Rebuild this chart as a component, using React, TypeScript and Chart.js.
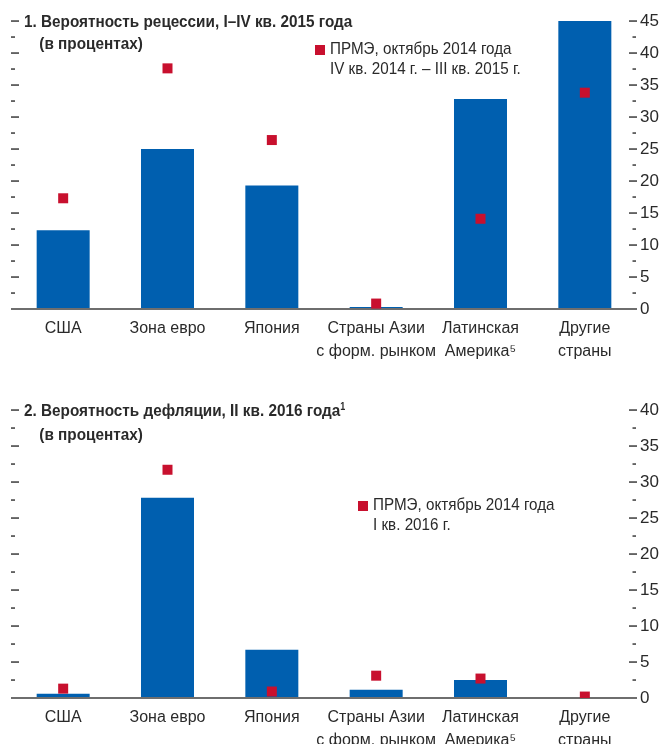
import React, { useEffect, useRef } from "react";
import { Chart, registerables } from "chart.js";

Chart.register(...registerables);

// Categories shared by both panels
const categories: string[][] = [
  ["США"],
  ["Зона евро"],
  ["Япония"],
  ["Страны Азии", "с форм. рынком"],
  ["Латинская", "Америка⁵"],
  ["Другие", "страны"],
];

// Panel 1: probability of recession, Q1–Q4 2015 (percent)
const recessionValues = [12.3, 25.0, 19.3, 0.3, 32.8, 45.0];
const recessionWeoOct2014 = [17.3, 37.6, 26.4, 0.85, 14.1, 33.8];
const recessionTicks = [0, 5, 10, 15, 20, 25, 30, 35, 40, 45];

// Panel 2: probability of deflation, Q2 2016 (percent)
const deflationValues = [0.6, 27.8, 6.7, 1.15, 2.5, 0];
const deflationWeoOct2014 = [1.3, 31.7, 0.9, 3.1, 2.7, 0.2];
const deflationTicks = [0, 5, 10, 15, 20, 25, 30, 35, 40];

const BLUE = "#005FAF";
const RED = "#C8102E";
const TEXT = "#2a2a2a";
const FONT = '"Liberation Sans", Arial, sans-serif';

const W = 663;
const H = 372;

// Short dashes on both edges of the plot at every half step, plus the zero line
const edgeMarks = {
  id: "edgeMarks",
  afterDatasetDraw(chart: any, args: any) {
    if (args.meta.type !== "bar") return;
    const { ctx, chartArea } = chart;
    const y = chart.scales.y;
    const step = y.options.ticks.stepSize as number;
    ctx.save();
    ctx.fillStyle = "#3c3c3c";
    for (let v = y.min + step / 2; v <= y.max + 1e-6; v += step / 2) {
      const py = Math.round(y.getPixelForValue(v));
      const major = Math.abs(v / step - Math.round(v / step)) < 1e-6;
      if (major) {
        ctx.fillRect(chartArea.left, py - 0.7, 8, 1.5);
        ctx.fillRect(chartArea.right - 8, py - 0.7, 8, 1.5);
      } else {
        ctx.fillRect(chartArea.left, py - 0.7, 4, 1.5);
        ctx.fillRect(chartArea.right - 4.5, py - 0.7, 3.5, 1.5);
      }
    }
    const y0 = y.getPixelForValue(0);
    ctx.fillStyle = "#6e6e6e";
    ctx.fillRect(chartArea.left, y0 - 1, chartArea.right - chartArea.left, 2);
    ctx.restore();
  },
};

function Panel(props: {
  values: number[];
  weo: number[];
  ticks: number[];
}) {
  const ref = useRef<HTMLCanvasElement | null>(null);
  useEffect(() => {
    if (!ref.current) return;
    const t = props.ticks;
    const chart = new Chart(ref.current, {
      type: "bar",
      data: {
        labels: categories,
        datasets: [
          {
            type: "line",
            data: props.weo,
            showLine: false,
            pointStyle: "rect",
            pointRadius: 7.07,
            pointHoverRadius: 7.07,
            pointBackgroundColor: RED,
            pointBorderWidth: 0,
            order: 0,
          } as any,
          {
            type: "bar",
            data: props.values,
            backgroundColor: BLUE,
            barPercentage: 0.508,
            categoryPercentage: 1,
            order: 1,
          },
        ],
      },
      options: {
        animation: false,
        responsive: false,
        devicePixelRatio: 1,
        layout: { padding: { left: 11, top: 21, right: 0, bottom: 0 } },
        plugins: { legend: { display: false }, tooltip: { enabled: false } },
        scales: {
          x: {
            grid: { display: false, drawTicks: false },
            border: { display: false },
            ticks: {
              font: { family: FONT, size: 16, lineHeight: 1.38 },
              color: TEXT,
              padding: 9,
              maxRotation: 0,
              autoSkip: false,
            },
            afterFit: (s: any) => {
              s.height = 63;
            },
          },
          y: {
            position: "right",
            min: t[0],
            max: t[t.length - 1],
            grid: { display: false, drawTicks: false },
            border: { display: false },
            ticks: {
              stepSize: t[1] - t[0],
              padding: 3,
              font: { family: FONT, size: 17 },
              color: TEXT,
            },
            afterFit: (s: any) => {
              s.width = 26;
            },
          },
        },
      },
      plugins: [edgeMarks],
    });
    return () => chart.destroy();
  }, []);
  return <canvas ref={ref} width={W} height={H} style={{ width: W, height: H, display: "block" }} />;
}

const textBase: React.CSSProperties = {
  position: "absolute",
  fontFamily: FONT,
  fontSize: 17,
  color: TEXT,
  whiteSpace: "nowrap",
  transformOrigin: "0 0",
};

function Title(props: { line1: React.ReactNode }) {
  return (
    <div
      style={{
        ...textBase,
        left: 24,
        top: 11,
        lineHeight: "22px",
        fontWeight: "bold",
        transform: "scaleX(0.9)",
      }}
    >
      <div>{props.line1}</div>
      <div style={{ paddingLeft: 17 }}>(в процентах)</div>
    </div>
  );
}

function Legend(props: { left: number; top: number; lines: string[] }) {
  return (
    <div style={{ position: "absolute", left: props.left, top: props.top }}>
      <div style={{ position: "absolute", left: 0, top: 6, width: 10, height: 10, background: RED }} />
      <div style={{ ...textBase, left: 15, top: 0, lineHeight: "20px", transform: "scaleX(0.895)" }}>
        {props.lines.map((l, i) => (
          <div key={i}>{l}</div>
        ))}
      </div>
    </div>
  );
}

export default function App() {
  return (
    <div
      style={{
        position: "absolute",
        left: 0,
        top: 0,
        width: W,
        height: 744,
        overflow: "hidden",
        background: "#fff",
      }}
    >
      <div style={{ position: "absolute", left: 0, top: 0, width: W, height: H }}>
        <Panel values={recessionValues} weo={recessionWeoOct2014} ticks={recessionTicks} />
        <Title line1="1. Вероятность рецессии, I–IV кв. 2015 года" />
        <Legend left={315} top={39} lines={["ПРМЭ, октябрь 2014 года", "IV кв. 2014 г. – III кв. 2015 г."]} />
      </div>
      <div style={{ position: "absolute", left: 0, top: 389, width: W, height: H }}>
        <Panel values={deflationValues} weo={deflationWeoOct2014} ticks={deflationTicks} />
        <Title
          line1={
            <>
              2. Вероятность дефляции, II кв. 2016 года
              <span style={{ fontSize: 10, position: "relative", top: -6 }}>1</span>
            </>
          }
        />
        <Legend left={358} top={106} lines={["ПРМЭ, октябрь 2014 года", "I кв. 2016 г."]} />
      </div>
    </div>
  );
}
